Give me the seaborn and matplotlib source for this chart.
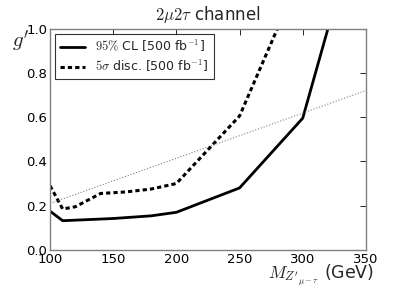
import matplotlib
matplotlib.use("Agg")
import matplotlib.pyplot as plt
import seaborn as sns

# 95% CL exclusion curve
cl_mass = [100, 110, 150, 180, 200, 250, 300, 320]
cl_g = [0.175, 0.132, 0.142, 0.154, 0.170, 0.280, 0.595, 1.0]

# 5 sigma discovery curve
disc_mass = [100, 110, 120, 140, 160, 180, 200, 250, 280]
disc_g = [0.290, 0.185, 0.195, 0.255, 0.262, 0.275, 0.300, 0.605, 1.0]

# thin reference line
ref_mass = [100, 350]
ref_g = [0.21, 0.72]

xticks = [100, 150, 200, 250, 300, 350]
yticks = [0.0, 0.2, 0.4, 0.6, 0.8, 1.0]

sns.set_style("white")
plt.rcParams["font.family"] = ["DejaVu Sans"]
plt.rcParams["mathtext.fontset"] = "cm"
plt.rcParams["mathtext.default"] = "it"

fig = plt.figure(figsize=(4.07, 2.85), dpi=100)
ax = fig.add_axes([0.123, 0.123, 0.776, 0.777])

sns.lineplot(x=cl_mass, y=cl_g, ax=ax, color="black", linewidth=2.0,
             label=r"$\mathrm{95\%}$ CL [500 fb$^{-1}$]")
sns.lineplot(x=disc_mass, y=disc_g, ax=ax, color="black", linewidth=2.2,
             dashes=(1.4, 1.0), label=r"$5\sigma$ disc. [500 fb$^{-1}$]")
sns.lineplot(x=ref_mass, y=ref_g, ax=ax, color="gray", linewidth=0.8,
             linestyle=":")

ax.set_xlim(100, 350)
ax.set_ylim(0, 1.0)
ax.set_xticks(xticks)
ax.set_yticks(yticks)
ax.set_yticklabels([f"{v:.1f}" for v in yticks])
ax.tick_params(direction="in", top=True, right=True, length=4, width=0.6,
               colors="black", labelsize=9.5, pad=2)
for s in ax.spines.values():
    s.set_color("gray")
    s.set_linewidth(1.0)

ax.set_title(r"$2\mu2\tau$ channel", fontsize=12, pad=6)
ax.set_xlabel(r"$M_{Z'_{\mu-\tau}}$ (GeV)", fontsize=12.5, ha="right", va="top")
ax.xaxis.set_label_coords(1.025, -0.06)
ax.set_ylabel(r"$g'$", fontsize=15, rotation=0, ha="right", va="top")
ax.yaxis.set_label_coords(-0.065, 1.0)

leg = ax.legend(loc="upper left", fontsize=9, frameon=True, fancybox=False,
                handlelength=2.0, borderpad=0.4, labelspacing=0.3,
                borderaxespad=0.4)
leg.get_frame().set_edgecolor("black")
leg.get_frame().set_linewidth(0.8)

fig.savefig("out.png", dpi=100)
